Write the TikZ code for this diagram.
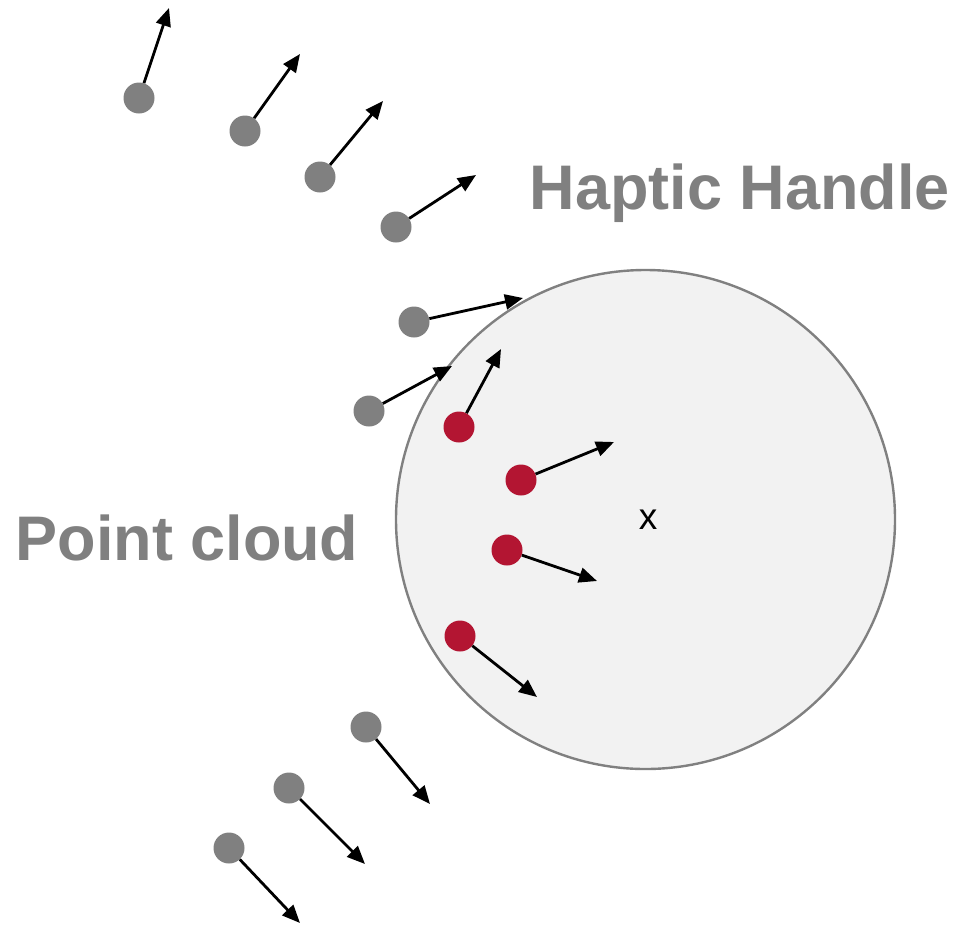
\documentclass[tikz,border=0pt]{standalone}
\usepackage{fontspec}
\setmainfont{Liberation Sans}
\usetikzlibrary{arrows.meta}
\definecolor{dotgray}{HTML}{808080}
\definecolor{dotred}{HTML}{B31532}
\definecolor{handlefill}{HTML}{F2F2F2}
\tikzset{
  graydot/.style={circle, fill=dotgray, inner sep=0pt, minimum size=31pt},
  reddot/.style={circle, fill=dotred, inner sep=0pt, minimum size=31pt},
  force/.style={line width=2.8pt, -{Triangle[length=18pt,width=15pt]}},
  bigtitle/.style={text=dotgray, font=\bfseries\fontsize{63}{70}\selectfont},
}
\begin{document}
\begin{tikzpicture}[x=1pt,y=-1pt]
  \useasboundingbox (0,0) rectangle (957,927);
  % haptic handle sphere
  \node[circle, draw=dotgray, line width=2.4pt, fill=handlefill,
        minimum size=499pt, inner sep=0pt] (handle) at (645.5,519.5) {};
  \node[font=\fontsize{37}{40}\selectfont, inner sep=0pt] (centre) at (648,520) {x};

  % labels
  \node[bigtitle, inner sep=0pt] (hlabel) at (740,193) {Haptic Handle};
  \node[bigtitle, inner sep=0pt] (plabel) at (187,538) {Point cloud};

  % point cloud outside the handle
  \node[graydot] (g1) at (139,98) {};
  \node[graydot] (g2) at (245,131) {};
  \node[graydot] (g3) at (320,177) {};
  \node[graydot] (g4) at (396,227) {};
  \node[graydot] (g5) at (414,322) {};
  \node[graydot] (g6) at (369,411) {};
  \node[graydot] (g7) at (366,727) {};
  \node[graydot] (g8) at (289,788) {};
  \node[graydot] (g9) at (229,848) {};

  % points inside the handle
  \node[reddot] (r1) at (459,427) {};
  \node[reddot] (r2) at (521,480) {};
  \node[reddot] (r3) at (507,550) {};
  \node[reddot] (r4) at (460,636) {};

  % arrow tips
  \coordinate (tg1) at (169,8);
  \coordinate (tg2) at (300,54);
  \coordinate (tg3) at (383,101);
  \coordinate (tg4) at (476,175);
  \coordinate (tg5) at (523,298);
  \coordinate (tg6) at (452,366);
  \coordinate (tg7) at (430,804);
  \coordinate (tg8) at (365,864);
  \coordinate (tg9) at (300,923);
  \coordinate (tr1) at (501,349);
  \coordinate (tr2) at (614,442);
  \coordinate (tr3) at (597,581);
  \coordinate (tr4) at (537,697);

  \foreach \n in {g1,g2,g3,g4,g5,g6,g7,g8,g9,r1,r2,r3,r4}
    \draw[force] (\n) -- (t\n);
\end{tikzpicture}
\end{document}
